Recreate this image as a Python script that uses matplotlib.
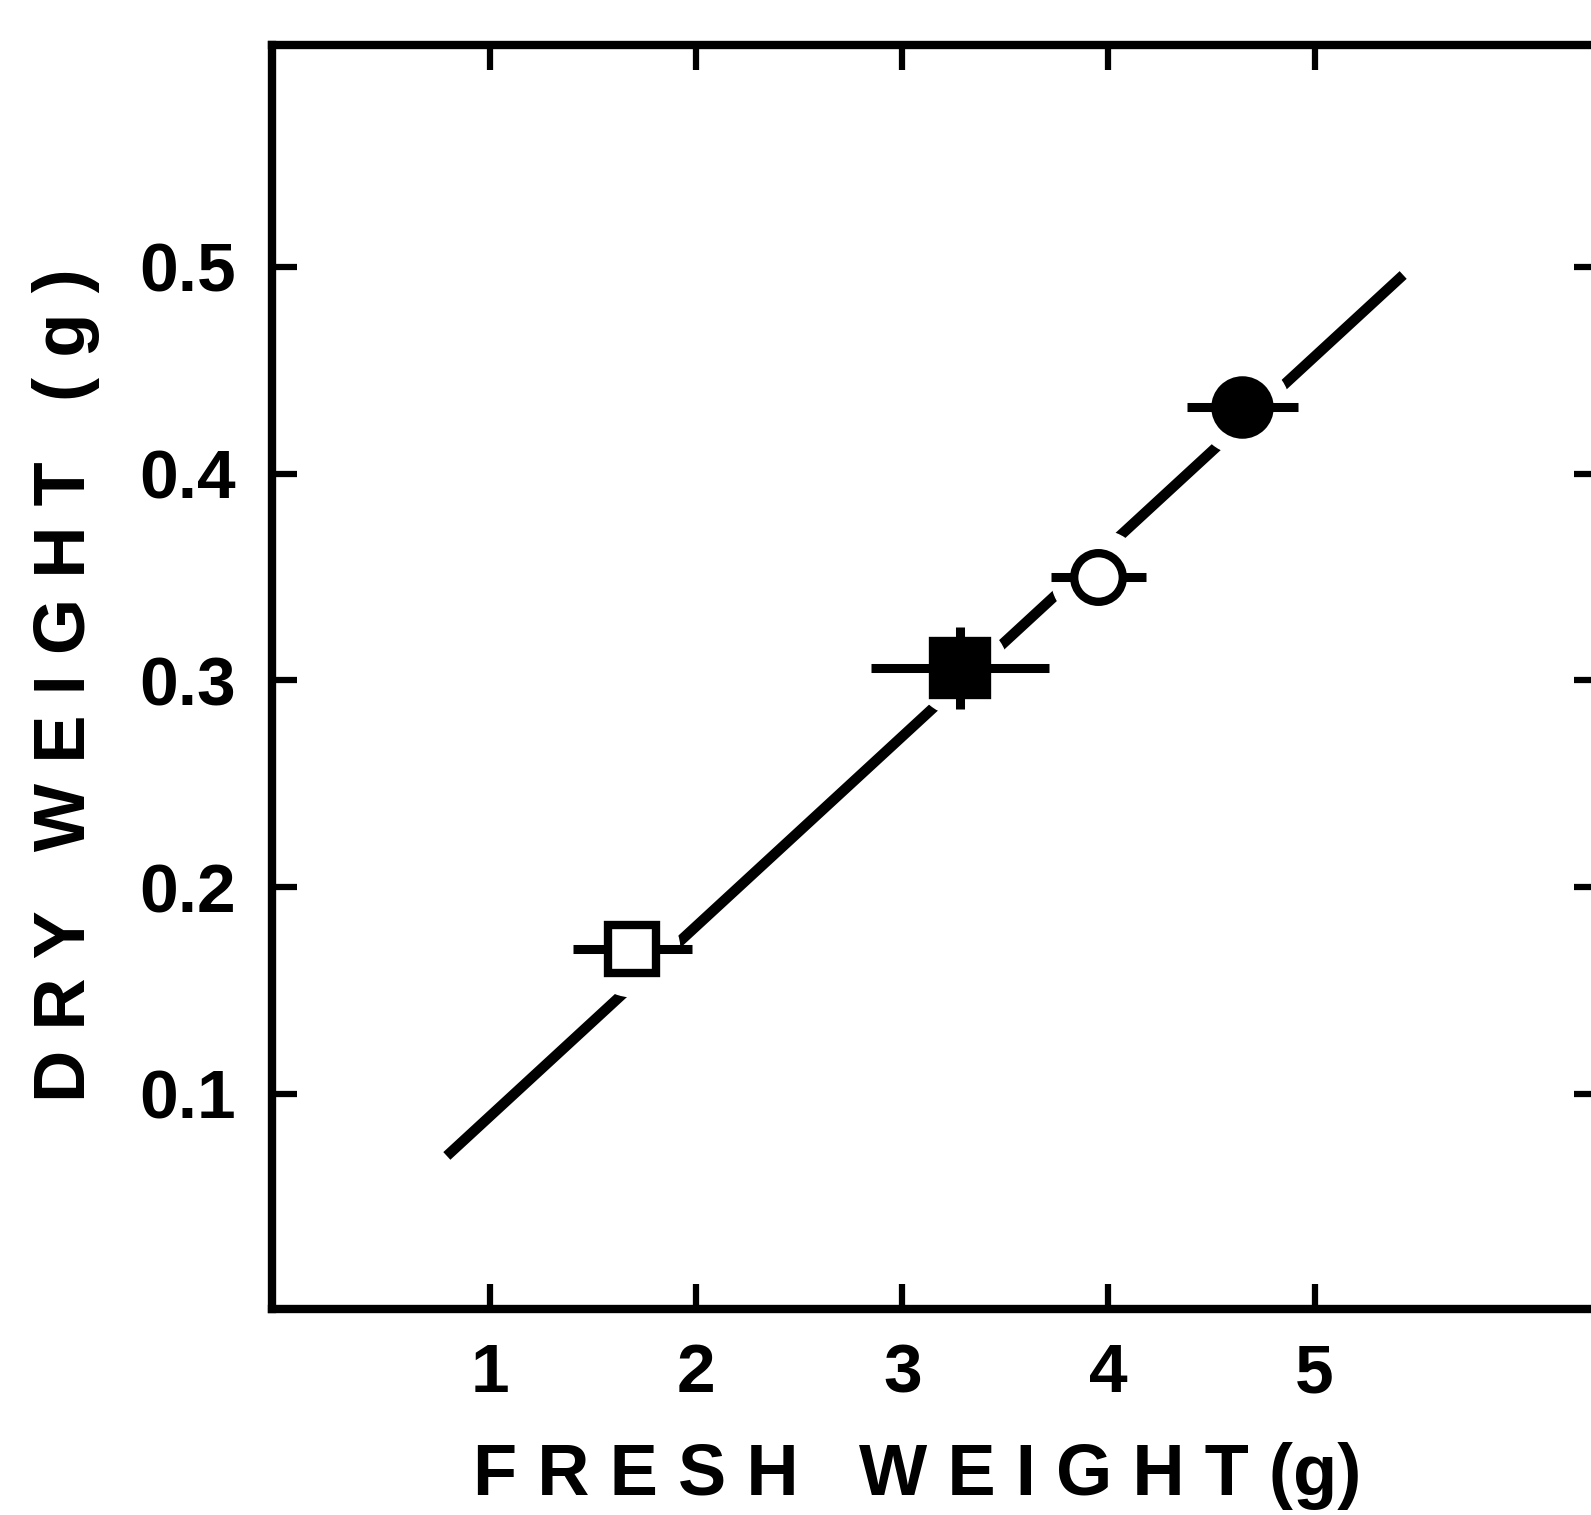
import matplotlib
matplotlib.use("Agg")
import matplotlib.pyplot as plt

# axis ticks
x_ticks = [1, 2, 3, 4, 5]
x_tick_labels = ["1", "2", "3", "4", "5"]
y_ticks = [0.1, 0.2, 0.3, 0.4, 0.5]
y_tick_labels = ["0.1", "0.2", "0.3", "0.4", "0.5"]

# fitted line end points
line_x = [0.79, 5.43]
line_y = [0.070, 0.496]

# means with SE (fresh weight, dry weight)
pts_x = [1.69, 3.28, 3.95, 4.65]
pts_y = [0.170, 0.306, 0.350, 0.432]
pts_xerr = [0.29, 0.43, 0.23, 0.27]
pts_yerr = [0.0, 0.020, 0.0, 0.0]
pts_marker = ["s", "s", "o", "o"]
pts_fill = ["white", "black", "white", "black"]

plt.rcParams["font.family"] = ["Liberation Sans", "DejaVu Sans"]
plt.rcParams["font.weight"] = "bold"

fig = plt.figure(figsize=(15.91, 15.15), dpi=100)
ax = fig.add_axes([0.171, 0.136, 0.834, 0.834])
ax.set_xlim(-0.058, 6.38)
ax.set_ylim(-0.004, 0.607)

ax.plot(line_x, line_y, color="black", lw=7.5, solid_capstyle="butt", zorder=1)

for x, y, xe, ye, m, fc in zip(pts_x, pts_y, pts_xerr, pts_yerr, pts_marker, pts_fill):
    # white halo breaking the line round each point
    ax.plot(x, y, marker="o", ms=68, mfc="white", mec="white", ls="none", zorder=2)
    ax.errorbar(x, y, xerr=xe, yerr=ye if ye > 0 else None, fmt="none",
                ecolor="black", elinewidth=6.5, capsize=0, zorder=3)
    ms = 35 if fc == "white" else 39
    ax.plot(x, y, marker=m, ms=ms, mfc=fc, mec="black", mew=6, ls="none", zorder=4)

for s in ax.spines.values():
    s.set_linewidth(6)
    s.set_clip_on(False)

ax.set_xticks(x_ticks)
ax.set_xticklabels(x_tick_labels)
ax.set_yticks(y_ticks)
ax.set_yticklabels(y_tick_labels)
ax.tick_params(direction="in", length=18, width=4.5, top=True, right=True,
               labelsize=50, pad=24)
ax.tick_params(axis="y", pad=26)

ax.set_xlabel("F R E S H   W E I G H T (g)", fontsize=52, fontweight="bold")
ax.xaxis.set_label_coords(0.486, -0.132)
ax.xaxis.label.set_va("center")
ax.set_ylabel("D R Y   W E I G H T   ( g )", fontsize=52, fontweight="bold")
ax.yaxis.set_label_coords(-0.155, 0.494)
ax.yaxis.label.set_va("center")

fig.savefig("out.png", dpi=100, facecolor="white")
